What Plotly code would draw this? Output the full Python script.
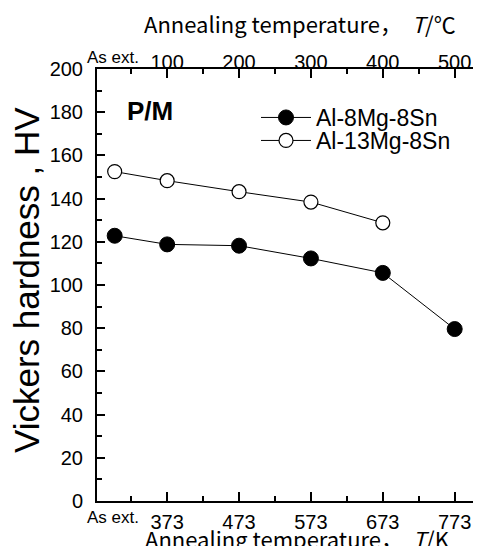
import plotly.graph_objects as go

# ---- data ----
temp_K = [300, 373, 473, 573, 673, 773]
hv_8mg = [122.8, 118.8, 118.2, 112.3, 105.6, 79.6]
temp_K_13 = [300, 373, 473, 573, 673]
hv_13mg = [152.5, 148.3, 143.2, 138.4, 128.8]

bottom_tickvals = [373, 473, 573, 673, 773]
bottom_ticktext = ["373", "473", "573", "673", "773"]
top_ticktext = ["100", "200", "300", "400", "500"]
as_ext_pos = 298
as_ext_label = "As ext."

xrange = [275.4, 811]
yrange = [0, 200]

# plot area in window pixels (page body has an 8px margin)
PL, PR, PT, PB = 97, 482, 69, 501
OFF = 8
W, H = 481, 546
PW, PH = PR - PL, PB - PT


def px(X):
    return (X - PL) / PW


def py(Y):
    return (PB - Y) / PH


fig = go.Figure()
fig.add_trace(go.Scatter(
    x=temp_K, y=hv_8mg, mode="lines+markers", name="Al-8Mg-8Sn", legend="legend",
    line=dict(color="black", width=1),
    marker=dict(symbol="circle", size=15, color="black", line=dict(color="black", width=1)),
))
fig.add_trace(go.Scatter(
    x=temp_K_13, y=hv_13mg, mode="lines+markers", name="Al-13Mg-8Sn", legend="legend2",
    line=dict(color="black", width=1),
    marker=dict(symbol="circle", size=14, color="white", line=dict(color="black", width=1.2)),
))
# invisible trace to activate top axis
fig.add_trace(go.Scatter(x=xrange, y=[None, None], xaxis="x2", showlegend=False, hoverinfo="skip"))

tickfont = dict(family="Liberation Sans, Arial, sans-serif", size=20, color="black")
legfont = dict(family="Liberation Sans, Arial, sans-serif", size=23, color="black")

fig.update_layout(
    width=W, height=H,
    margin=dict(l=PL - OFF, r=W - (PR - OFF), t=PT - OFF, b=H - (PB - OFF)),
    paper_bgcolor="white", plot_bgcolor="white",
    showlegend=True,
    legend=dict(x=px(256), y=py(96), xanchor="left", yanchor="top", font=legfont,
                itemwidth=50, bgcolor="rgba(0,0,0,0)"),
    legend2=dict(x=px(256), y=py(119), xanchor="left", yanchor="top", font=legfont,
                 itemwidth=50, bgcolor="rgba(0,0,0,0)"),
    xaxis=dict(range=xrange, showgrid=False, zeroline=False, automargin=False,
               showline=True, linecolor="black", linewidth=2,
               tickmode="array", tickvals=bottom_tickvals, ticktext=bottom_ticktext,
               ticks="inside", ticklen=9, tickwidth=2, tickcolor="black",
               ticklabelstandoff=2, tickfont=tickfont,
               minor=dict(tickmode="linear", tick0=323, dtick=100, ticks="inside",
                          ticklen=5, tickwidth=2, tickcolor="black")),
    xaxis2=dict(range=xrange, overlaying="x", side="top", showgrid=False, zeroline=False,
                automargin=False,
                showline=True, linecolor="black", linewidth=2,
                tickmode="array", tickvals=bottom_tickvals, ticktext=top_ticktext,
                ticks="inside", ticklen=9, tickwidth=2, tickcolor="black",
                ticklabelstandoff=-10, tickfont=tickfont,
                minor=dict(tickmode="linear", tick0=323, dtick=100, ticks="inside",
                           ticklen=5, tickwidth=2, tickcolor="black")),
    yaxis=dict(range=yrange, showgrid=False, zeroline=False, automargin=False,
               showline=True, linecolor="black", linewidth=2,
               tickmode="linear", tick0=0, dtick=20,
               ticks="inside", ticklen=8, tickwidth=2, tickcolor="black",
               ticklabelstandoff=8, tickfont=tickfont,
               minor=dict(tickmode="linear", tick0=10, dtick=20, ticks="inside",
                          ticklen=5, tickwidth=2, tickcolor="black")),
)

title_font = dict(family="Noto Sans CJK JP, sans-serif", size=22, color="black")
fig.add_annotation(text="Annealing temperature，  <i>T</i>/℃", xref="paper", yref="paper",
                   x=px(300), y=py(23), xanchor="center", yanchor="middle",
                   showarrow=False, font=title_font)
fig.add_annotation(text="Annealing temperature，  <i>T</i>/K", xref="paper", yref="paper",
                   x=px(297), y=py(538), xanchor="center", yanchor="middle",
                   showarrow=False, font=title_font)
fig.add_annotation(text="Vickers hardness , HV", xref="paper", yref="paper",
                   x=px(26), y=py(280), xanchor="center", yanchor="middle", textangle=-90,
                   showarrow=False,
                   font=dict(family="Liberation Sans, Arial, sans-serif", size=35, color="black"))
fig.add_annotation(text="<b>P/M</b>", xref="paper", yref="paper",
                   x=px(150), y=py(111), xanchor="center", yanchor="middle",
                   showarrow=False,
                   font=dict(family="Liberation Sans, Arial, sans-serif", size=26, color="black"))
# "As ext." labels on both axes
fig.add_annotation(text=as_ext_label, xref="x", yref="paper", x=as_ext_pos, y=py(57),
                   xanchor="center", yanchor="middle", showarrow=False,
                   font=dict(family="Liberation Sans, Arial, sans-serif", size=17, color="black"))
fig.add_annotation(text=as_ext_label, xref="x", yref="paper", x=as_ext_pos, y=py(517),
                   xanchor="center", yanchor="middle", showarrow=False,
                   font=dict(family="Liberation Sans, Arial, sans-serif", size=17, color="black"))

fig.write_html("out.html")
